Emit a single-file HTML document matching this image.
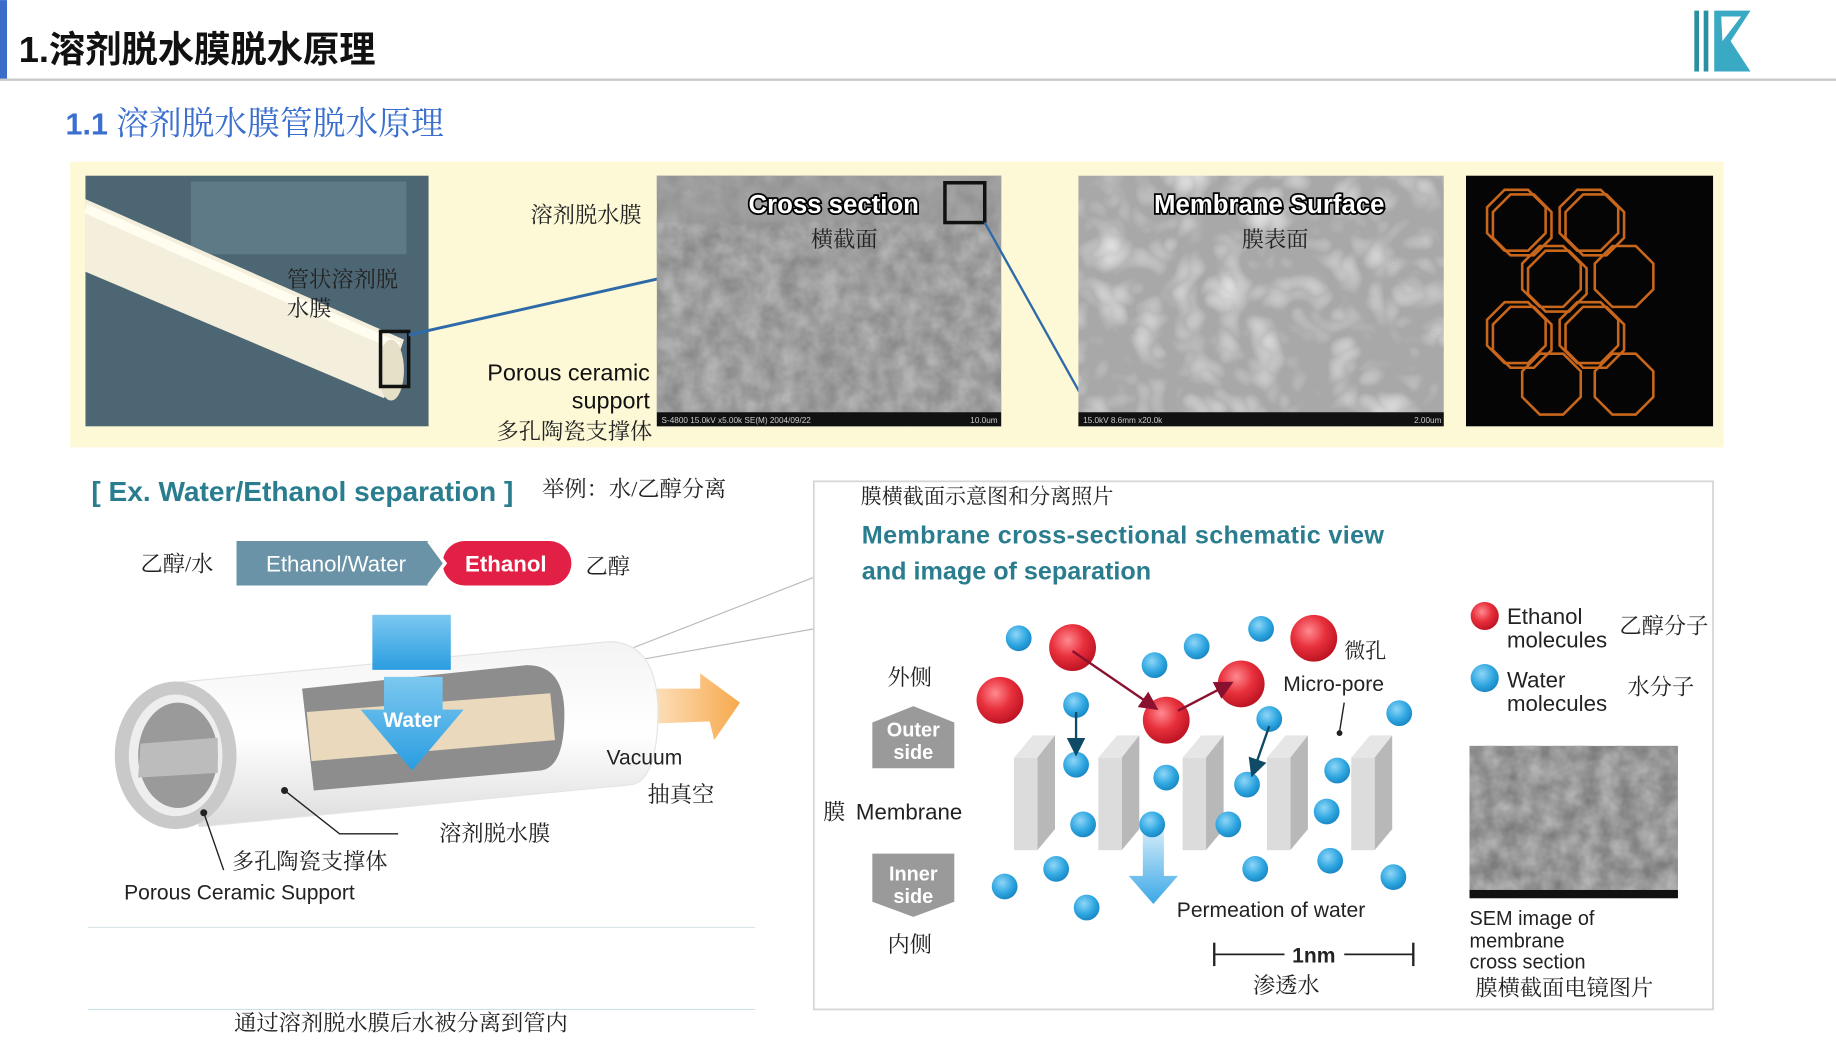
<!DOCTYPE html>
<html><head><meta charset="utf-8"><style>
html,body{margin:0;padding:0;background:#fff;}
svg{display:block;}
.s{font-family:"Liberation Serif","Noto Serif CJK SC",serif;}
.a{font-family:"Liberation Sans","Noto Sans CJK SC",sans-serif;}
</style></head><body>
<svg width="1836" height="1054" viewBox="0 0 1568 900" xmlns="http://www.w3.org/2000/svg">
<defs>
<filter id="sem" x="0" y="0" width="100%" height="100%">
<feTurbulence type="fractalNoise" baseFrequency="0.06" numOctaves="3" seed="3"/>
<feColorMatrix type="matrix" values="0 0 0 0 0.45  0 0 0 0 0.45  0 0 0 0 0.45  1.6 0 0 0 -0.3"/>
</filter>
<filter id="sem2" x="0" y="0" width="100%" height="100%">
<feTurbulence type="turbulence" baseFrequency="0.03" numOctaves="2" seed="8"/>
<feColorMatrix type="matrix" values="0 0 0 0 0.85  0 0 0 0 0.85  0 0 0 0 0.85  1.2 0 0 0 -0.2"/>
</filter>
<clipPath id="zc"><rect x="1252" y="150" width="211" height="214"/></clipPath>
<radialGradient id="red" cx="0.4" cy="0.35" r="0.7"><stop offset="0" stop-color="#ff8a90"/><stop offset="0.5" stop-color="#e8303c"/><stop offset="1" stop-color="#b81020"/></radialGradient>
<radialGradient id="blu" cx="0.4" cy="0.35" r="0.7"><stop offset="0" stop-color="#8fd6f7"/><stop offset="0.6" stop-color="#2ea6e0"/><stop offset="1" stop-color="#1683c0"/></radialGradient>
<linearGradient id="dn" x1="0" y1="0" x2="0" y2="1"><stop offset="0" stop-color="#ffffff"/><stop offset="1" stop-color="#3aa8e6"/></linearGradient>
<linearGradient id="wa" x1="0" y1="0" x2="0" y2="1"><stop offset="0" stop-color="#7cc8f0"/><stop offset="1" stop-color="#2a9de0"/></linearGradient>
<linearGradient id="or" x1="0" y1="0" x2="1" y2="0"><stop offset="0" stop-color="#fde2c0"/><stop offset="1" stop-color="#f7a94c"/></linearGradient>
<linearGradient id="tube" x1="0" y1="0" x2="0" y2="1"><stop offset="0" stop-color="#f4f4f4"/><stop offset="0.5" stop-color="#ffffff"/><stop offset="1" stop-color="#dcdcdc"/></linearGradient>
<marker id="mr" markerWidth="8" markerHeight="8" refX="6" refY="4" orient="auto"><path d="M0,0 L8,4 L0,8z" fill="#8a1030"/></marker>
<marker id="mb" markerWidth="8" markerHeight="8" refX="6" refY="4" orient="auto"><path d="M0,0 L8,4 L0,8z" fill="#0f4a66"/></marker>
</defs>

<!-- header -->
<rect x="0" y="0" width="6" height="68" fill="#3b6cc9"/>
<text x="16" y="53" class="a" font-size="31" font-weight="bold" fill="#111">1.溶剂脱水膜脱水原理</text>
<rect x="0" y="67" width="1568" height="2" fill="#c8c8c8"/>
<rect x="1447" y="9" width="4" height="52" fill="#2a8fa0"/>
<rect x="1455" y="9" width="4" height="52" fill="#2a8fa0"/>
<path d="M1464,9 L1495,9 L1478,35 L1495,61 L1464,61 Z M1471,35 L1487,14 L1470,14 Z" fill="#3aa9c4"/>
<text x="56" y="115" class="a" font-size="28" fill="#3a6fcf"><tspan font-weight="bold" font-size="26">1.1</tspan><tspan font-family="Liberation Serif,Noto Serif CJK SC,serif"> 溶剂脱水膜管脱水原理</tspan></text>

<!-- yellow band -->
<rect x="60" y="138" width="1412" height="244" fill="#fdf8d6"/>
<!-- photo 1 -->
<rect x="73" y="150" width="293" height="214" fill="#4d6673"/>
<rect x="163" y="155" width="184" height="62" fill="#5e7a87"/>
<path d="M73,170 L345,290 L328,340 L73,232 Z" fill="#f3efdc"/>
<path d="M73,178 L340,296" stroke="#fffdf0" stroke-width="8"/>
<ellipse cx="334" cy="316" rx="11" ry="26" fill="#e6e0c8"/>
<text x="245" y="245" class="s" font-size="19" fill="#222">管状溶剂脱</text>
<text x="245" y="270" class="s" font-size="19" fill="#222">水膜</text>
<rect x="325" y="283" width="24" height="47" fill="none" stroke="#111" stroke-width="3"/>
<line x1="349" y1="286" x2="562" y2="238" stroke="#2e6aa8" stroke-width="2.5"/>
<text x="548" y="190" class="s" font-size="19" fill="#222" text-anchor="end">溶剂脱水膜</text>
<text x="555" y="325" class="a" font-size="20" fill="#111" text-anchor="end">Porous ceramic</text>
<text x="555" y="349" class="a" font-size="20" fill="#111" text-anchor="end">support</text>
<text x="557" y="375" class="s" font-size="19" fill="#222" text-anchor="end">多孔陶瓷支撑体</text>

<!-- SEM 1 -->
<rect x="561" y="150" width="294" height="214" fill="#8a8a8a"/>
<rect x="561" y="150" width="294" height="214" filter="url(#sem)"/>
<rect x="561" y="150" width="294" height="40" fill="#9a9a9a" opacity="0.5"/>
<rect x="561" y="352" width="294" height="12" fill="#111"/>
<text x="565" y="361" class="a" font-size="7" fill="#ccc">S-4800 15.0kV x5.00k SE(M) 2004/09/22</text>
<text x="852" y="361" class="a" font-size="7" fill="#ccc" text-anchor="end">10.0um</text>
<text x="712" y="182" class="a" font-size="22" font-weight="bold" fill="#fff" stroke="#000" stroke-width="3" paint-order="stroke" text-anchor="middle">Cross section</text>
<text x="721" y="211" class="s" font-size="19" fill="#222" text-anchor="middle">横截面</text>
<rect x="807" y="156" width="34" height="34" fill="none" stroke="#111" stroke-width="3"/>
<line x1="841" y1="190" x2="922" y2="335" stroke="#2e6aa8" stroke-width="2"/>

<!-- SEM 2 -->
<rect x="921" y="150" width="312" height="214" fill="#a8a8a8"/>
<rect x="921" y="150" width="312" height="214" filter="url(#sem2)"/>
<rect x="921" y="352" width="312" height="12" fill="#111"/>
<text x="925" y="361" class="a" font-size="7" fill="#ccc">15.0kV 8.6mm x20.0k</text>
<text x="1231" y="361" class="a" font-size="7" fill="#ccc" text-anchor="end">2.00um</text>
<text x="1084" y="182" class="a" font-size="22" font-weight="bold" fill="#fff" stroke="#000" stroke-width="3" paint-order="stroke" text-anchor="middle">Membrane Surface</text>
<text x="1089" y="211" class="s" font-size="19" fill="#222" text-anchor="middle">膜表面</text>

<!-- zeolite -->
<rect x="1252" y="150" width="211" height="214" fill="#050505"/>
<g fill="none" stroke="#c8661c" stroke-width="2.2" clip-path="url(#zc)">
<path id="oc" d="M1285,162 L1305,162 L1320,177 L1320,199 L1305,214 L1285,214 L1270,199 L1270,177 Z"/>
<use href="#oc" transform="translate(5,4)"/>
<use href="#oc" transform="translate(62,0)"/><use href="#oc" transform="translate(67,4)"/>
<use href="#oc" transform="translate(30,48)"/><use href="#oc" transform="translate(35,52)"/>
<use href="#oc" transform="translate(0,96)"/><use href="#oc" transform="translate(5,100)"/>
<use href="#oc" transform="translate(62,96)"/><use href="#oc" transform="translate(67,100)"/>
<use href="#oc" transform="translate(30,140)"/><use href="#oc" transform="translate(92,140)"/>
<use href="#oc" transform="translate(92,48)"/>
</g>

<!-- bottom left -->
<text x="78" y="428" class="a" font-size="24" fill="#2a7d8e" font-weight="bold">[ Ex. Water/Ethanol separation ]</text>
<text x="463" y="424" class="s" font-size="19" fill="#222">举例：水/乙醇分离</text>
<text x="120" y="488" class="s" font-size="19" fill="#222">乙醇/水</text>
<path d="M202,462 L368,462 L380,481 L368,500 L202,500 Z" fill="#6a93a8"/>
<rect x="378" y="462" width="110" height="38" rx="19" fill="#e21f45"/>
<path d="M366,462 L380,481 L366,500" fill="none" stroke="#fff" stroke-width="3"/>
<text x="287" y="488" class="a" font-size="19" fill="#fff" text-anchor="middle">Ethanol/Water</text>
<text x="432" y="488" class="a" font-size="19" font-weight="bold" fill="#fff" text-anchor="middle">Ethanol</text>
<text x="500" y="490" class="s" font-size="19" fill="#222">乙醇</text>

<!-- callout lines -->
<line x1="518" y1="562" x2="695" y2="493" stroke="#bbb" stroke-width="1"/>
<line x1="520" y1="568" x2="695" y2="537" stroke="#bbb" stroke-width="1"/>
<!-- orange arrow -->
<path d="M555,588 L598,588 L598,575 L632,600 L610,632 L606,616 L555,618 Z" fill="url(#or)"/>
<!-- tube -->
<path d="M148,583 L520,548 Q560,548 562,605 Q562,665 540,670 L170,706 Z" fill="url(#tube)" stroke="#e4e4e4"/>
<path d="M258,588 L450,568 Q482,568 482,610 Q482,655 462,658 L268,675 Z" fill="#8d8d8d"/>
<path d="M262,608 L470,592 L474,632 L266,650 Z" fill="#ead9bd"/>
<ellipse cx="150" cy="645" rx="52" ry="63" fill="#c9c9c9"/>
<ellipse cx="150" cy="645" rx="40" ry="52" fill="#eeeeee"/>
<ellipse cx="152" cy="645" rx="34" ry="45" fill="#9a9a9a"/>
<path d="M120,635 L186,630 L186,660 L118,664 Z" fill="#bcbcbc"/>
<!-- water arrow -->
<rect x="318" y="525" width="67" height="47" fill="url(#wa)"/>
<path d="M328,578 L378,578 L378,606 L396,606 L352,658 L308,606 L328,606 Z" fill="url(#wa)"/>
<text x="352" y="621" class="a" font-size="18" font-weight="bold" fill="#fff" text-anchor="middle">Water</text>
<circle cx="243" cy="675" r="3" fill="#222"/>
<polyline points="243,675 290,712 340,712" fill="none" stroke="#222" stroke-width="1.2"/>
<circle cx="174" cy="694" r="3" fill="#222"/>
<line x1="174" y1="694" x2="191" y2="743" stroke="#222" stroke-width="1.2"/>
<text x="518" y="653" class="a" font-size="18" fill="#222">Vacuum</text>
<text x="553" y="685" class="s" font-size="19" fill="#222">抽真空</text>
<text x="375" y="718" class="s" font-size="19" fill="#222">溶剂脱水膜</text>
<text x="198" y="742" class="s" font-size="19" fill="#222">多孔陶瓷支撑体</text>
<text x="106" y="768" class="a" font-size="18" fill="#222">Porous Ceramic Support</text>
<line x1="75" y1="792" x2="645" y2="792" stroke="#d8e6ea" stroke-width="1"/>
<line x1="75" y1="862" x2="645" y2="862" stroke="#cfe1e8" stroke-width="1"/>
<text x="200" y="880" class="s" font-size="19" fill="#222">通过溶剂脱水膜后水被分离到管内</text>

<!-- right panel -->
<rect x="695" y="411" width="768" height="451" fill="#fff" stroke="#d6d6d6" stroke-width="1.5"/>
<text x="735" y="430" class="s" font-size="18" fill="#222">膜横截面示意图和分离照片</text>
<text x="736" y="464" class="a" font-size="21.5" font-weight="bold" fill="#2a7d8e" textLength="446">Membrane cross-sectional schematic view</text>
<text x="736" y="495" class="a" font-size="21.5" font-weight="bold" fill="#2a7d8e">and image of separation</text>

<text x="758" y="585" class="s" font-size="19" fill="#222">外侧</text>
<path d="M745,617 L780,603 L815,617 L815,656 L745,656 Z" fill="#9a9a9a"/>
<text x="780" y="629" class="a" font-size="17" font-weight="bold" fill="#fff" text-anchor="middle">Outer</text>
<text x="780" y="648" class="a" font-size="17" font-weight="bold" fill="#fff" text-anchor="middle">side</text>
<text x="703" y="700" class="s" font-size="19" fill="#222">膜</text>
<text x="731" y="700" class="a" font-size="19" fill="#222">Membrane</text>
<path d="M745,729 L815,729 L815,770 L780,783 L745,770 Z" fill="#9a9a9a"/>
<text x="780" y="752" class="a" font-size="17" font-weight="bold" fill="#fff" text-anchor="middle">Inner</text>
<text x="780" y="771" class="a" font-size="17" font-weight="bold" fill="#fff" text-anchor="middle">side</text>
<text x="758" y="813" class="s" font-size="19" fill="#222">内侧</text>

<!-- slabs -->
<g id="slab">
<path d="M866,647 L882,628 L901,628 L886,647 Z" fill="#e6e6e6"/>
<path d="M886,647 L901,628 L901,708 L886,726 Z" fill="#b8b8b8"/>
<rect x="866" y="647" width="20" height="79" fill="#dcdcdc"/>
</g>
<use href="#slab" transform="translate(72,0)"/>
<use href="#slab" transform="translate(144,0)"/>
<use href="#slab" transform="translate(216,0)"/>
<use href="#slab" transform="translate(288,0)"/>

<!-- down arrow -->
<path d="M976,690 L994,690 L994,748 L1006,748 L985,772 L964,748 L976,748 Z" fill="url(#dn)"/>

<!-- molecules -->
<g fill="url(#blu)">
<circle cx="870" cy="545" r="11"/><circle cx="986" cy="568" r="11"/><circle cx="1022" cy="552" r="11"/>
<circle cx="1077" cy="537" r="11"/><circle cx="919" cy="602" r="11"/><circle cx="1084" cy="614" r="11"/>
<circle cx="1195" cy="609" r="11"/><circle cx="919" cy="653" r="11"/><circle cx="996" cy="664" r="11"/>
<circle cx="1065" cy="670" r="11"/><circle cx="1142" cy="658" r="11"/><circle cx="925" cy="704" r="11"/>
<circle cx="984" cy="704" r="11"/><circle cx="1049" cy="704" r="11"/><circle cx="1133" cy="693" r="11"/>
<circle cx="858" cy="757" r="11"/><circle cx="902" cy="742" r="11"/><circle cx="928" cy="775" r="11"/>
<circle cx="1072" cy="742" r="11"/><circle cx="1136" cy="735" r="11"/><circle cx="1190" cy="749" r="11"/>
</g>
<g fill="url(#red)">
<circle cx="916" cy="553" r="20"/><circle cx="854" cy="598" r="20"/><circle cx="996" cy="615" r="20"/>
<circle cx="1060" cy="584" r="20"/><circle cx="1122" cy="545" r="20"/>
</g>
<line x1="916" y1="556" x2="986" y2="604" stroke="#8a1030" stroke-width="2" marker-end="url(#mr)"/>
<line x1="1006" y1="607" x2="1050" y2="584" stroke="#8a1030" stroke-width="2" marker-end="url(#mr)"/>
<line x1="919" y1="608" x2="919" y2="642" stroke="#0f4a66" stroke-width="2" marker-end="url(#mb)"/>
<line x1="1084" y1="620" x2="1070" y2="660" stroke="#0f4a66" stroke-width="2" marker-end="url(#mb)"/>

<text x="1148" y="562" class="s" font-size="18" fill="#222">微孔</text>
<text x="1096" y="590" class="a" font-size="18" fill="#222">Micro-pore</text>
<line x1="1148" y1="600" x2="1144" y2="625" stroke="#222" stroke-width="1.2"/>
<circle cx="1144" cy="626" r="2.5" fill="#222"/>

<text x="1005" y="783" class="a" font-size="18" fill="#222">Permeation of water</text>
<line x1="1037" y1="805" x2="1037" y2="825" stroke="#222" stroke-width="2"/>
<line x1="1207" y1="805" x2="1207" y2="825" stroke="#222" stroke-width="2"/>
<line x1="1037" y1="815" x2="1097" y2="815" stroke="#222" stroke-width="1.5"/>
<line x1="1148" y1="815" x2="1207" y2="815" stroke="#222" stroke-width="1.5"/>
<text x="1122" y="822" class="a" font-size="18" font-weight="bold" fill="#222" text-anchor="middle">1nm</text>
<text x="1070" y="848" class="s" font-size="19" fill="#222">渗透水</text>

<circle cx="1268" cy="526" r="12" fill="url(#red)"/>
<text x="1287" y="533" class="a" font-size="19" fill="#222">Ethanol</text>
<text x="1287" y="553" class="a" font-size="19" fill="#222">molecules</text>
<text x="1383" y="541" class="s" font-size="19" fill="#222">乙醇分子</text>
<circle cx="1268" cy="579" r="12" fill="url(#blu)"/>
<text x="1287" y="587" class="a" font-size="19" fill="#222">Water</text>
<text x="1287" y="607" class="a" font-size="19" fill="#222">molecules</text>
<text x="1390" y="593" class="s" font-size="19" fill="#222">水分子</text>

<rect x="1255" y="637" width="178" height="130" fill="#7d7d7d"/>
<rect x="1255" y="637" width="178" height="130" filter="url(#sem)"/>
<rect x="1255" y="760" width="178" height="7" fill="#111"/>
<text x="1255" y="790" class="a" font-size="17" fill="#222">SEM image of</text>
<text x="1255" y="809" class="a" font-size="17" fill="#222">membrane</text>
<text x="1255" y="827" class="a" font-size="17" fill="#222">cross section</text>
<text x="1260" y="850" class="s" font-size="19" fill="#222">膜横截面电镜图片</text>
</svg>
</body></html>
